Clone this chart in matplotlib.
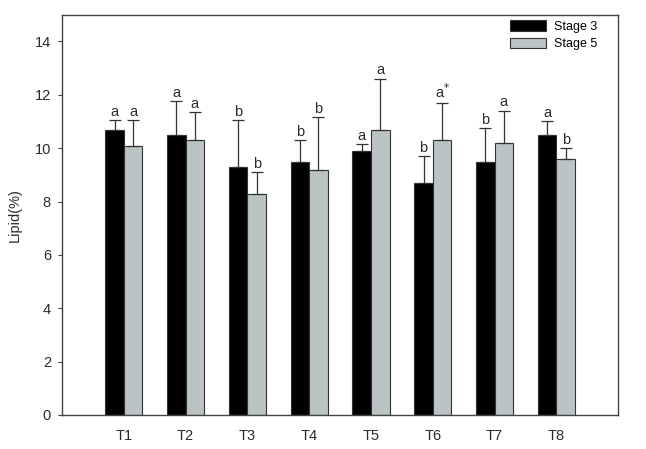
import matplotlib
matplotlib.use("Agg")
import matplotlib.pyplot as plt
import numpy as np

plt.rcParams['font.family'] = ['Liberation Sans', 'DejaVu Sans']

categories = ['T1', 'T2', 'T3', 'T4', 'T5', 'T6', 'T7', 'T8']
stage3 = [10.7, 10.5, 9.3, 9.5, 9.9, 8.7, 9.5, 10.5]
stage3_err = [0.35, 1.25, 1.75, 0.8, 0.25, 1.0, 1.25, 0.5]
stage5 = [10.1, 10.3, 8.3, 9.2, 10.7, 10.3, 10.2, 9.6]
stage5_err = [0.95, 1.05, 0.8, 1.95, 1.9, 1.4, 1.2, 0.4]
stage3_labels = ['a', 'a', 'b', 'b', 'a', 'b', 'b', 'a']
stage5_labels = ['a', 'a', 'b', 'b', 'a', 'a*', 'a', 'b']
yticks = [0, 2, 4, 6, 8, 10, 12, 14]

fig = plt.figure(figsize=(6.46, 4.49), dpi=100)
ax = fig.add_axes([0.096, 0.076, 0.861, 0.891])

x = np.arange(1, len(categories) + 1)
w = 0.3
edge = '#333333'
gray = '#bac4c4'
txtc = '#2a2a2a'
ax.bar(x - w/2, stage3, w, color='black', edgecolor=edge, linewidth=0.8, label='Stage 3')
ax.bar(x + w/2, stage5, w, color=gray, edgecolor=edge, linewidth=0.8, label='Stage 5')
ax.errorbar(x - w/2, stage3, yerr=[np.zeros(len(x)), stage3_err], fmt='none',
            ecolor='#333333', elinewidth=0.9, capsize=4, capthick=0.9)
ax.errorbar(x + w/2, stage5, yerr=[np.zeros(len(x)), stage5_err], fmt='none',
            ecolor='#333333', elinewidth=0.9, capsize=4, capthick=0.9)

for xi, v, e, lab in zip(x - w/2, stage3, stage3_err, stage3_labels):
    ax.text(xi, v + e + 0.06, lab, ha='center', va='bottom', fontsize=10.5, color=txtc)
for xi, v, e, lab in zip(x + w/2, stage5, stage5_err, stage5_labels):
    if lab.endswith('*'):
        ax.text(xi, v + e + 0.06, 'a$^{*}$', ha='center', va='bottom', fontsize=10.5, color=txtc)
    else:
        ax.text(xi, v + e + 0.06, lab, ha='center', va='bottom', fontsize=10.5, color=txtc)

ax.set_xlim(0, 9)
ax.set_ylim(0, 15)
ax.set_xticks(x)
ax.set_xticklabels(categories, fontsize=10.5, color=txtc)
ax.set_yticks(yticks)
ax.set_yticklabels([str(t) for t in yticks], fontsize=10.5, color=txtc)
ax.tick_params(axis='y', direction='out', length=3, color='#444444', pad=5)
ax.tick_params(axis='x', length=0, pad=10)
for s in ax.spines.values():
    s.set_color('#444444')
    s.set_linewidth(1.0)
ax.set_ylabel('Lipid(%)', fontsize=10.5, color=txtc, labelpad=9)

ax.legend(loc='upper right', bbox_to_anchor=(0.975, 1.005), frameon=False, fontsize=9,
          handlelength=2.9, handleheight=0.9, borderaxespad=0.2, labelspacing=0.4,
          handletextpad=0.6)

fig.savefig('out.png', dpi=100)
